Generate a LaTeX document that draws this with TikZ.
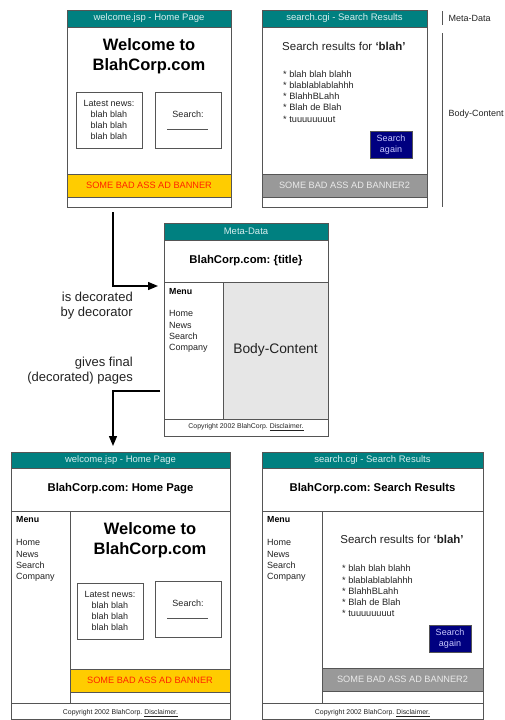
\documentclass[tikz,border=0pt]{standalone}
\usepackage{fontspec}
\setmainfont{Liberation Sans}
\usetikzlibrary{arrows.meta}
\definecolor{hdr}{HTML}{008080}
\definecolor{hdrtxt}{HTML}{D6EEEE}
\definecolor{frame}{HTML}{555555}
\definecolor{adyellow}{HTML}{FFCC00}
\definecolor{adred}{HTML}{FF2200}
\definecolor{adgrey}{HTML}{999999}
\definecolor{adgreytxt}{HTML}{EAEAEA}
\definecolor{bodygrey}{HTML}{E6E6E6}
\definecolor{btnblue}{HTML}{000080}
\definecolor{btntxt}{HTML}{C8C8FF}
\definecolor{txt}{HTML}{222222}
\newcommand\fsz[2]{\fontsize{#1}{#2}\selectfont}
\frenchspacing
\begin{document}
\begin{tikzpicture}[x=1pt,y=-1pt,
  page/.style={draw=frame, line width=0.8pt, minimum width=#1, inner sep=0pt, anchor=north west},
  rule/.style={draw=frame, line width=0.8pt},
  headbar/.style={fill=hdr, draw=frame, line width=0.8pt},
  headtext/.style={text=hdrtxt, font=\fsz{9.5}{11}},
  adyel/.style={fill=adyellow, draw=frame, line width=0.8pt},
  adyeltext/.style={text=adred, font=\fsz{9.2}{11}},
  adgry/.style={fill=adgrey, draw=frame, line width=0.8pt},
  adgrytext/.style={text=adgreytxt, font=\fsz{9.2}{11}},
  button/.style={fill=btnblue, draw=frame, line width=0.6pt},
  buttontext/.style={text=btntxt, align=center, font=\fsz{9}{11}},
  welcome/.style={align=center, font=\bfseries\fsz{16.5}{20}, text=black},
  small/.style={text=txt, font=\fsz{9}{11}},
  listtext/.style={text=txt, align=left, anchor=west, font=\fsz{9.2}{11.2}, inner sep=0pt},
  sidelabel/.style={text=txt, anchor=west, font=\fsz{9}{10}},
  pagetitle/.style={text=black, font=\bfseries\fsz{11.3}{13}},
  menuhead/.style={text=black, anchor=west, inner sep=0pt, font=\bfseries\fsz{8.8}{10}},
  menu/.style={text=txt, align=left, anchor=west, font=\fsz{9}{11.3}, inner sep=0pt},
  copyright/.style={text=txt, font=\fsz{6.9}{8}},
  note/.style={text=txt, align=right, anchor=east, font=\fsz{13}{15}, inner sep=0pt},
  flow/.style={draw=black, line width=1.3pt, -{Triangle[length=10pt,width=8pt]}}
]
\useasboundingbox (0,0) rectangle (505,720);

%% ---------- welcome.jsp (undecorated) ----------
\node[page=164pt, minimum height=197pt] (home) at (67,10) {};
\draw[headbar] (67,10) rectangle (231,27);
\node[headtext] at (149,18.5) {welcome.jsp - Home Page};
\node[welcome] at (149,56) {Welcome to\\BlahCorp.com};
\draw[rule] (76,92) rectangle (142,148);
\node[small, align=center] at (109,119.5) {Latest news:\\blah blah\\blah blah\\blah blah};
\draw[rule] (155,92) rectangle (221,148);
\node[small] at (188,114) {Search:};
\draw[frame, line width=0.5pt] (167,129) -- (208,129);
\draw[adyel] (67,174) rectangle (231,197);
\node[adyeltext] at (149,185.5) {SOME BAD ASS AD BANNER};
\draw[rule] (67,10) rectangle (231,207);

%% ---------- search.cgi (undecorated) ----------
\node[page=165pt, minimum height=197pt] (search) at (262,10) {};
\draw[headbar] (262,10) rectangle (427,27);
\node[headtext] at (344.5,18.5) {search.cgi - Search Results};
\node[text=txt, anchor=west, inner sep=0pt, font=\fsz{11.5}{13}] at (282,46) {Search results for \textbf{‘blah’}};
\node[listtext] at (283,96.5) {* blah blah blahh\\* blablablablahhh\\* BlahhBLahh\\* Blah de Blah\\* tuuuuuuuut};
\draw[button] (370,131) rectangle (412,158);
\node[buttontext] at (391,144.5) {Search\\again};
\draw[adgry] (262,174) rectangle (427,197);
\node[adgrytext] at (344.5,185.5) {SOME BAD ASS AD BANNER2};
\draw[rule] (262,10) rectangle (427,207);

%% side brackets naming the page parts
\draw[frame, line width=0.6pt] (442,11) -- (442,25);
\draw[frame, line width=0.6pt] (442,33) -- (442,207);
\node[sidelabel] at (445,18) {Meta-Data};
\node[sidelabel] at (445,114) {Body-Content};

%% ---------- decorator ----------
\node[page=164pt, minimum height=213pt] (dec) at (164,223) {};
\fill[bodygrey] (223,282) rectangle (328,419);
\draw[headbar] (164,223) rectangle (328,240);
\node[headtext] at (246,231.5) {Meta-Data};
\node[pagetitle] at (246,261) {BlahCorp.com: \{title\}};
\draw[rule] (164,282) -- (328,282);
\draw[rule] (223,282) -- (223,419);
\draw[rule] (164,419) -- (328,419);
\node[menuhead] at (169,292) {Menu};
\node[menu] at (169,331.5) {Home\\News\\Search\\Company};
\node[text=txt, font=\fsz{13.8}{16}] at (275.5,350) {Body-Content};
\node[copyright] at (246,427.5) {Copyright 2002 BlahCorp. \underline{Disclaimer.}};
\draw[rule] (164,223) rectangle (328,436);

%% ---------- flow arrows ----------
\coordinate (tap) at (113,212);
\coordinate (into) at (158,286);
\coordinate (outof) at (160,391);
\coordinate (down) at (113,446);
\draw[flow] (tap) |- (into);
\draw[flow] (outof) -| (down);
\node[note] at (133,305.5) {is decorated\\by decorator};
\node[note] at (133,370.5) {gives final\\(decorated) pages};

%% ---------- welcome.jsp (decorated) ----------
\node[page=219pt, minimum height=267.5pt] (fhome) at (11,452) {};
\draw[headbar] (11,452) rectangle (230,468);
\node[headtext] at (120.5,460) {welcome.jsp - Home Page};
\node[pagetitle] at (120.5,489) {BlahCorp.com: Home Page};
\draw[rule] (11,511) -- (230,511);
\draw[rule] (70,511) -- (70,703);
\node[menuhead] at (16,520) {Menu};
\node[menu] at (16,560.5) {Home\\News\\Search\\Company};
\node[welcome] at (150,540) {Welcome to\\BlahCorp.com};
\draw[rule] (77,583) rectangle (143,639);
\node[small, align=center] at (110,610.5) {Latest news:\\blah blah\\blah blah\\blah blah};
\draw[rule] (155,581) rectangle (221,637);
\node[small] at (188,603) {Search:};
\draw[frame, line width=0.5pt] (167,618) -- (208,618);
\draw[adyel] (70,669) rectangle (230,692);
\node[adyeltext] at (150,680.5) {SOME BAD ASS AD BANNER};
\draw[rule] (11,703) -- (230,703);
\node[copyright] at (120.5,713) {Copyright 2002 BlahCorp. \underline{Disclaimer.}};
\draw[rule] (11,452) rectangle (230,719.5);

%% ---------- search.cgi (decorated) ----------
\node[page=221pt, minimum height=267.5pt] (fsearch) at (262,452) {};
\draw[headbar] (262,452) rectangle (483,468);
\node[headtext] at (372.5,460) {search.cgi - Search Results};
\node[pagetitle] at (372.5,489) {BlahCorp.com: Search Results};
\draw[rule] (262,511) -- (483,511);
\draw[rule] (322,511) -- (322,703);
\node[menuhead] at (267,520) {Menu};
\node[menu] at (267,560.5) {Home\\News\\Search\\Company};
\node[text=txt, font=\fsz{11.5}{13}] at (402,539) {Search results for \textbf{‘blah’}};
\node[listtext] at (342,591) {* blah blah blahh\\* blablablablahhh\\* BlahhBLahh\\* Blah de Blah\\* tuuuuuuuut};
\draw[button] (429,625) rectangle (471,652);
\node[buttontext] at (450,638.5) {Search\\again};
\draw[adgry] (322,668) rectangle (483,691);
\node[adgrytext] at (402.5,679.5) {SOME BAD ASS AD BANNER2};
\draw[rule] (262,703) -- (483,703);
\node[copyright] at (372.5,713) {Copyright 2002 BlahCorp. \underline{Disclaimer.}};
\draw[rule] (262,452) rectangle (483,719.5);
\end{tikzpicture}
\end{document}
